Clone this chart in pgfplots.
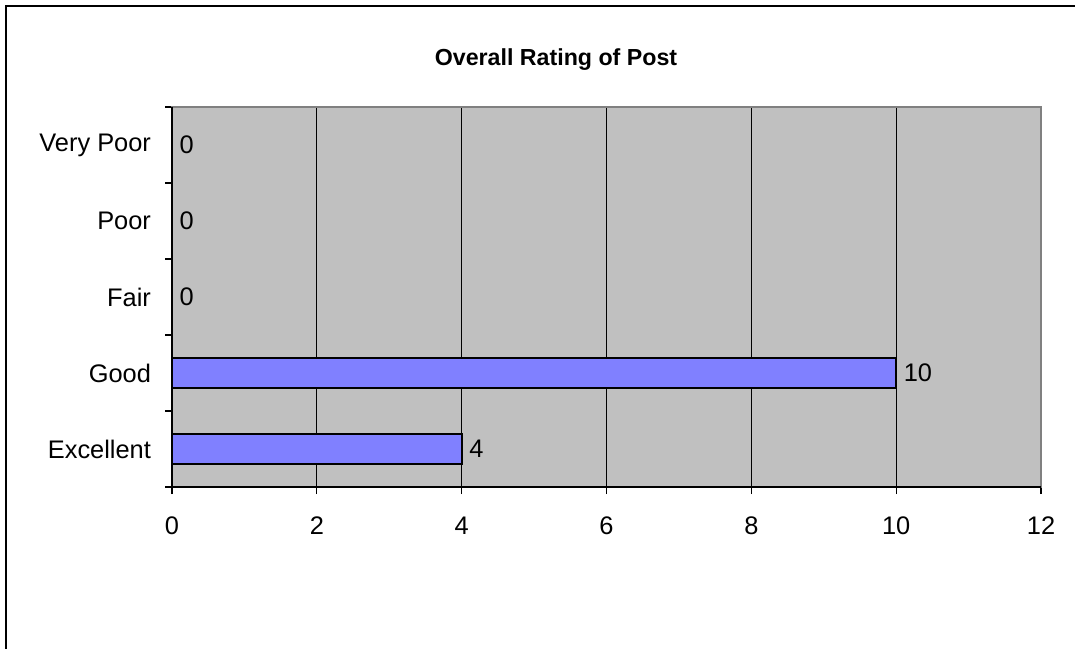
\documentclass[border=0pt]{standalone}
\usepackage{fontspec}
\setmainfont{Liberation Sans}
\usepackage{pgfplots}
\pgfplotsset{compat=1.18}
\definecolor{plotbg}{HTML}{C0C0C0}
\definecolor{barfill}{HTML}{8080FF}
\definecolor{framegray}{HTML}{808080}
\begin{document}
\begin{tikzpicture}[x=1pt,y=1pt]
\useasboundingbox[fill=white] (0,0) rectangle (537.5,324);
\draw[line width=1pt,black] (3,-5) -- (3,321) -- (545,321);
\node[font=\fontsize{11.6}{14}\selectfont\bfseries] at (278,294) {Overall Rating of Post};
\begin{axis}[
  at={(86pt,80.5pt)}, anchor=south west,
  scale only axis, width=434.5pt, height=190pt,
  xbar, bar width=15pt,
  xmin=0, xmax=12, ymin=-0.5, ymax=4.5,
  xtick={0,2,...,12},
  ytick={0,1,2,3,4},
  yticklabels={Excellent,Good,Fair,Poor,Very Poor},
  minor ytick={-0.5,0.5,1.5,2.5,3.5,4.5},
  major y tick style={draw=none},
  minor tick length=3.5pt,
  major tick length=3.5pt,
  tick align=outside,
  xtick pos=bottom, ytick pos=left,
  tick style={black, line width=0.6pt},
  xmajorgrids, major grid style={black, line width=0.6pt},
  axis background/.style={fill=plotbg},
  axis line style={framegray, line width=1pt},
  /pgf/number format/assume math mode=true,
  tick label style={font=\fontsize{12.7}{15}\selectfont},
  xticklabel style={yshift=-8pt},
  yticklabel style={xshift=-3.5pt},
  nodes near coords,
  every node near coord/.append style={font=\fontsize{12.7}{15}\selectfont, black},
  clip=false,
]
\addplot[fill=barfill, draw=black, line width=1pt] coordinates {(4,0) (10,1) (0,2) (0,3) (0,4)};
\draw[black, line width=0.8pt] (rel axis cs:0,1) -- (rel axis cs:0,0) -- (rel axis cs:1,0);
\end{axis}
\end{tikzpicture}
\end{document}
